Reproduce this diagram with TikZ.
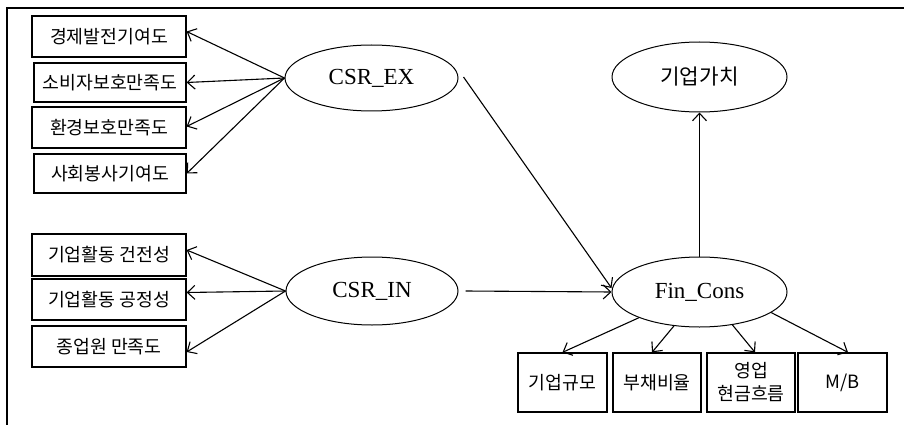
\documentclass[tikz,border=0pt]{standalone}
\usepackage{fontspec}
\setmainfont{Liberation Serif}
\newfontfamily\kr{Noto Sans CJK KR}
\usetikzlibrary{arrows.meta,shapes.geometric}
\begin{document}
\begin{tikzpicture}[x=1pt,y=-1pt,
  boxnode/.style={draw,line width=1.3pt,inner sep=0pt,font=\kr\fontsize{18.3}{21}\selectfont},
  ellnode/.style={draw,ellipse,line width=1pt,inner sep=0pt},
  arr/.style={line width=1.1pt,-{Straight Barb[length=7.5pt,width=14pt,line width=1.1pt]}},
  latfont/.style={font=\fontsize{23}{27}\selectfont}
]
\useasboundingbox (0,0) rectangle (904,425);
\draw[line width=1.6pt] (7,425) -- (7,8) -- (904,8);
% left boxes
\node[boxnode,minimum width=154pt,minimum height=41pt] (b1) at (109,36.5) {경제발전기여도};
\node[boxnode,minimum width=152pt,minimum height=39pt] (b2) at (110,82.5) {소비자보호만족도};
\node[boxnode,minimum width=154pt,minimum height=41pt] (b3) at (109,127.5) {환경보호만족도};
\node[boxnode,minimum width=152pt,minimum height=39pt] (b4) at (110,173.5) {사회봉사기여도};
\node[boxnode,minimum width=154pt,minimum height=42pt] (b5) at (109,255) {기업활동 건전성};
\node[boxnode,minimum width=154pt,minimum height=41pt] (b6) at (109,299.5) {기업활동 공정성};
\node[boxnode,minimum width=154pt,minimum height=41pt] (b7) at (109,346.5) {종업원 만족도};
% ellipses
\node[ellnode,latfont,minimum width=173pt,minimum height=66pt] (ex) at (371.5,78) {CSR\_EX};
\node[ellnode,latfont,minimum width=172pt,minimum height=68pt] (in) at (372,291) {CSR\_IN};
\node[ellnode,font=\kr\fontsize{21.3}{25}\selectfont,minimum width=175pt,minimum height=70pt] (val) at (699.5,77) {기업가치};
\node[ellnode,latfont,minimum width=175pt,minimum height=70pt] (fin) at (699.5,292) {Fin\_Cons};
% bottom boxes
\node[boxnode,minimum width=89pt,minimum height=59pt] (c1) at (562.5,382.5) {기업규모};
\node[boxnode,minimum width=88pt,minimum height=59pt] (c2) at (657,382.5) {부채비율};
\node[boxnode,minimum width=88pt,minimum height=59pt,align=center,font=\kr\fontsize{18.3}{23}\selectfont] (c3) at (751,382.5) {영업\\현금흐름};
\node[boxnode,minimum width=89pt,minimum height=59pt] (c4) at (842.5,382.5) {M/B};
% arrows
\draw[arr] (ex.west) -- ([yshift=5pt]b1.east);
\draw[arr] (ex.west) -- (b2.east);
\draw[arr] (ex.west) -- ([yshift=1pt]b3.east);
\draw[arr] (ex.west) -- (b4.east);
\draw[arr] (in.west) -- ([yshift=5pt]b5.east);
\draw[arr] (in.west) -- ([yshift=7pt]b6.east);
\draw[arr] (in.west) -- ([yshift=-5.5pt]b7.east);
\draw[arr] ([xshift=5pt,yshift=1pt]ex.east) -- ([yshift=4pt]fin.west);
\draw[arr] ([xshift=7pt]in.east) -- (fin.west);
\draw[arr] (fin.north) -- (val.south);
\draw[arr] (fin.203) -- (c1.north);
\draw[arr] (fin.233) -- ([xshift=-5pt]c2.north);
\draw[arr] (fin.315) -- ([xshift=4pt]c3.north);
\draw[arr] (fin.344) -- ([xshift=5.5pt]c4.north);
\end{tikzpicture}
\end{document}
